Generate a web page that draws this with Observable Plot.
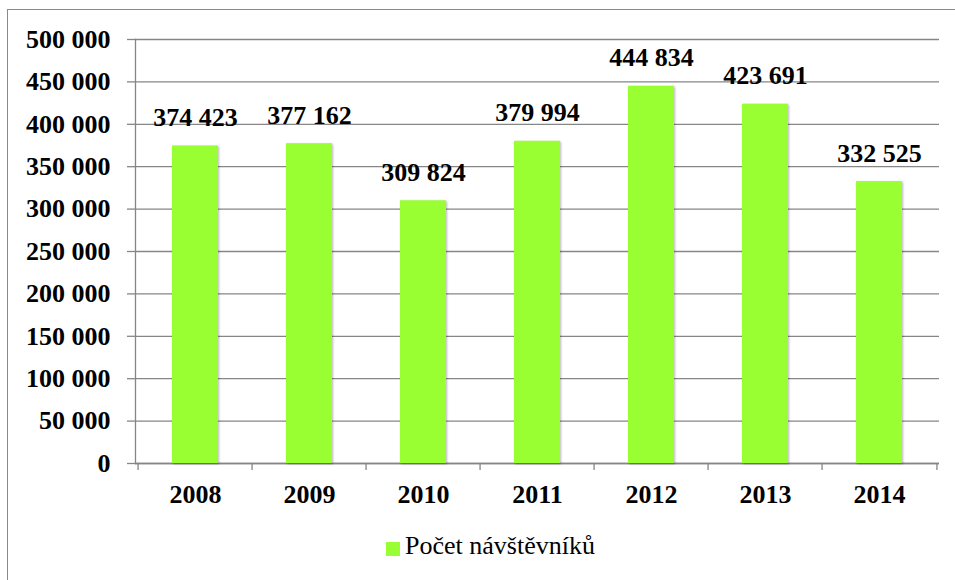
<!DOCTYPE html>
<html>
<head>
<meta charset="utf-8">
<script src="https://cdn.jsdelivr.net/npm/d3@7"></script>
<script src="https://cdn.jsdelivr.net/npm/@observablehq/plot@0.6"></script>
<style>
  html, body { margin: 0; padding: 0; background: #fff; overflow: hidden; }
  #wrap { position: relative; width: 955px; height: 580px; overflow: hidden; }
  #frame { position: absolute; left: 7px; top: 9px; width: 1000px; height: 700px; border: 1.5px solid #8a8a8a; box-sizing: border-box; }
  #chart { position: absolute; left: 0; top: 0; }
  #chart svg g[aria-label="bar"] { filter: drop-shadow(1.5px 1px 1.2px rgba(0,0,0,0.28)); }
  #chart svg text { font-family: "Liberation Serif", "Times New Roman", Times, "DejaVu Serif", serif; }
  #legend { position: absolute; left: 386px; top: 532px; height: 28px; font-family: "Liberation Serif", "Times New Roman", Times, "DejaVu Serif", serif; font-size: 26px; line-height: 28px; color: #000; white-space: nowrap; }
  #legend .sw { position: absolute; left: 0; top: 10px; width: 14px; height: 14px; }
  #legend .lb { position: absolute; left: 19px; top: 0; }
</style>
</head>
<body>
<div id="wrap">
  <div id="frame"></div>
  <div id="chart"></div>
  <div id="legend"><span class="sw"></span><span class="lb"></span></div>
</div>
<script>
// ---- data ----
const years = ["2008", "2009", "2010", "2011", "2012", "2013", "2014"];
const visitors = [374423, 377162, 309824, 379994, 444834, 423691, 332525];
const yTicks = [0, 50000, 100000, 150000, 200000, 250000, 300000, 350000, 400000, 450000, 500000];
const seriesName = "Počet návštěvníků";

// ---- styles ----
const barColor = "#99ff33";
const gridColor = "#868686";
const font = '"Liberation Serif", "Times New Roman", Times, "DejaVu Serif", serif';

const fmt = d3.formatLocale({thousands: "\u00a0", grouping: [3], decimal: ","}).format(",");
const rows = years.map((y, i) => ({year: y, value: visitors[i]}));

const W = 955, H = 520, mL = 135, mR = 16, mT = 39, mB = 57;
const step = (W - mL - mR) / years.length;

const chart = Plot.plot({
  width: W,
  height: H,
  marginLeft: mL,
  marginRight: mR,
  marginTop: mT,
  marginBottom: mB,
  style: {fontFamily: font, background: "transparent", overflow: "visible"},
  x: {domain: years, paddingInner: 0.6, paddingOuter: 0.3, label: null},
  y: {domain: [0, 500000], label: null},
  marks: [
    Plot.gridY(yTicks, {stroke: gridColor, strokeOpacity: 1, strokeWidth: 1.3}),
    Plot.ruleY([0], {stroke: gridColor, strokeWidth: 1.3}),
    Plot.frame({anchor: "left", stroke: gridColor, strokeWidth: 1.3}),
    Plot.axisY(yTicks, {
      tickSize: 8, tickPadding: 17, stroke: gridColor, strokeWidth: 1.3,
      tickFormat: fmt, fontSize: 26, fontWeight: "bold", fill: "#000", label: null
    }),
    // x axis tick marks at band boundaries
    Plot.ruleX(rows, {x: "year", y1: 0, y2: 0, dx: -step / 2, insetBottom: -7, stroke: gridColor, strokeWidth: 1.3}),
    Plot.ruleX(rows.slice(-1), {x: "year", y1: 0, y2: 0, dx: step / 2, insetBottom: -7, stroke: gridColor, strokeWidth: 1.3}),
    Plot.axisX({tickSize: 0, tickPadding: 21, fontSize: 26, fontWeight: "bold", fill: "#000", label: null}),
    Plot.barY(rows, {x: "year", y: "value", fill: barColor}),
    Plot.text(rows, {
      x: "year", y: "value", text: d => fmt(d.value),
      lineAnchor: "bottom", dy: -20, fontSize: 26, fontWeight: "bold", fill: "#000"
    })
  ]
});
document.getElementById("chart").appendChild(chart);
document.querySelector("#legend .sw").style.background = barColor;
document.querySelector("#legend .lb").textContent = seriesName;
</script>
</body>
</html>
